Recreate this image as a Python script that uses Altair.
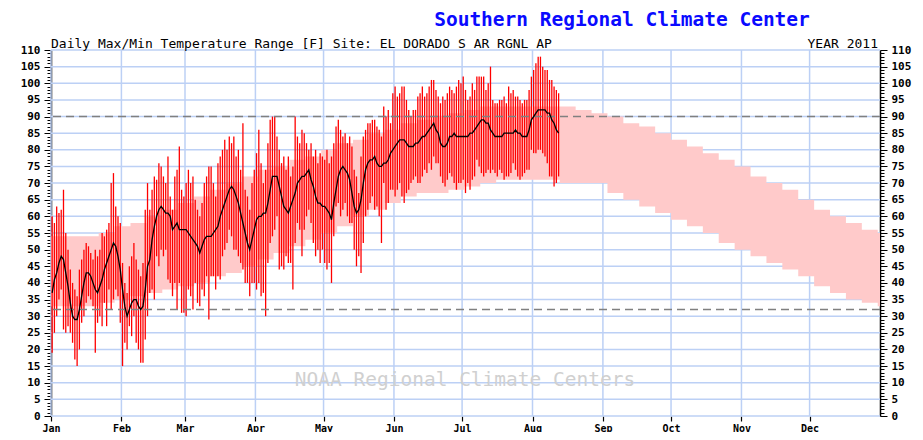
import json
import altair as alt
import pandas as pd

# ---------------- data ----------------
daily_max = [
    60, 58, 63, 61, 62, 68, 55, 50, 44, 40,
    38, 36, 44, 47, 50, 52, 51, 49, 47, 50,
    48, 50, 55, 54, 56, 58, 70, 73, 63, 60,
    58, 46, 40, 37, 45, 48, 52, 47, 44, 42,
    46, 62, 70, 62, 68, 72, 71, 76, 75, 72,
    70, 78, 66, 62, 72, 74, 81, 68, 66, 70,
    74, 70, 72, 65, 62, 60, 64, 70, 72, 75,
    75, 70, 66, 76, 78, 80, 83, 80, 84, 82,
    84, 78, 80, 74, 88, 68, 66, 62, 70, 74,
    79, 86, 76, 70, 74, 82, 89, 90, 90, 84,
    80, 76, 78, 74, 78, 72, 75, 90, 84, 82,
    86, 85, 82, 80, 82, 78, 80, 76, 79, 78,
    77, 80, 76, 78, 82, 87, 89, 86, 84, 85,
    82, 84, 81, 74, 72, 67, 78, 84, 86, 88,
    88, 89, 89, 87, 86, 84, 93, 90, 92, 88,
    97, 99, 96, 97, 99, 99, 95, 92, 90, 92,
    92, 96, 97, 99, 96, 97, 99, 101, 101, 98,
    96, 94, 96, 95, 97, 99, 98, 97, 99, 101,
    100, 102, 98, 95, 96, 100, 98, 102, 102, 102,
    102, 98, 100, 105, 95, 94, 94, 95, 95, 96,
    94, 99, 97, 98, 96, 96, 95, 94, 95, 95,
    98, 102, 104, 106, 108, 108, 105, 104, 104, 101,
    101, 99, 98, 97,
]
daily_min = [
    19, 25, 30, 35, 38, 26, 25, 27, 25, 22,
    17, 15, 20, 28, 30, 34, 36, 35, 33, 19,
    28, 30, 27, 34, 27, 38, 32, 35, 38, 36,
    28, 15, 22, 20, 27, 24, 30, 22, 20, 16,
    16, 23, 30, 37, 38, 35, 48, 45, 50, 48,
    50, 41, 40, 36, 40, 32, 40, 31, 31, 30,
    38, 36, 32, 40, 34, 33, 38, 36, 42, 29,
    42, 42, 38, 42, 41, 48, 50, 52, 56, 54,
    50, 50, 48, 46, 44, 40, 40, 36, 40, 40,
    38, 40, 36, 37, 30, 46, 52, 54, 56, 60,
    44, 45, 44, 48, 46, 46, 38, 52, 58, 56,
    48, 56, 60, 62, 58, 52, 48, 50, 46, 50,
    46, 44, 46, 40, 54, 63, 64, 60, 62, 64,
    60, 58, 58, 50, 45, 48, 43, 52, 60, 62,
    64, 66, 62, 63, 60, 52, 70, 62, 64, 68,
    68, 66, 68, 70, 66, 64, 67, 68, 70, 71,
    72, 70, 70, 72, 74, 73, 76, 74, 78, 76,
    76, 72, 70, 69, 71, 73, 72, 70, 68, 70,
    70, 71, 67, 70, 68, 71, 72, 77, 75, 73,
    72, 73, 74, 73, 74, 73, 72, 74, 73, 71,
    72, 72, 73, 76, 74, 72, 71, 72, 73, 74,
    74, 80, 79, 79, 80, 80, 79, 78, 76, 72,
    72, 69, 70, 72,
]
smoothed = [
    37, 41, 43, 46, 48, 47, 43, 39, 34, 30,
    29, 29, 32, 36, 40, 43, 43, 42, 40, 38,
    37, 39, 41, 44, 46, 48, 50, 52, 51, 48,
    44, 38, 33, 30, 32, 34, 35, 35, 33, 32,
    33, 38, 45, 47, 53, 57, 60, 62, 63, 62,
    61, 61, 60, 56, 57, 58, 56, 56, 56, 56,
    55, 54, 53, 52, 51, 49, 51, 53, 54, 54,
    54, 55, 56, 57, 60, 62, 64, 66, 68, 69,
    68, 66, 64, 61, 58, 55, 52, 50, 53, 56,
    59, 60, 60, 61, 61, 64, 68, 72, 72, 72,
    69, 66, 63, 62, 61, 63, 65, 67, 70, 71,
    72, 72, 73, 74, 71, 69, 66, 64, 64, 63,
    63, 62, 61, 59, 64, 68, 72, 74, 75, 74,
    73, 71, 67, 63, 61, 62, 65, 70, 74, 76,
    77, 77, 78, 76, 75, 75, 76, 76, 77, 79,
    80, 81, 82, 83, 83, 83, 82, 81, 81, 81,
    82, 82, 83, 84, 84, 85, 86, 87, 88, 86,
    85, 82, 81, 81, 82, 84, 84, 85, 84, 84,
    84, 84, 84, 84, 85, 85, 86, 87, 88, 89,
    89, 88, 88, 86, 85, 84, 84, 84, 84, 85,
    85, 85, 85, 85, 86, 85, 85, 84, 84, 84,
    86, 89, 90, 91, 92, 92, 92, 92, 91, 91,
    89, 88, 86, 85,
]
# normals, one value per week (day of year 0, 7, 14, ... 364, then 365)
normal_max = [
    54, 54, 54, 55, 57, 58, 60, 62, 64, 66, 68, 70, 72, 74, 75, 77, 78, 80,
    82, 83, 85, 86, 88, 89, 90, 91, 92, 93, 93, 93, 93, 93, 93, 92, 91, 90,
    88, 87, 85, 83, 81, 79, 77, 75, 72, 70, 68, 65, 62, 60, 58, 56, 55, 55,
]
normal_min = [
    33, 33, 33, 34, 35, 36, 37, 38, 39, 40, 42, 43, 45, 47, 49, 51, 53, 55,
    57, 60, 62, 64, 66, 67, 67, 68, 69, 70, 71, 71, 71, 71, 70, 70, 70, 67,
    65, 63, 61, 59, 57, 55, 52, 50, 48, 46, 44, 42, 39, 37, 35, 34, 33, 33,
]
reference_lines = [90, 32]
months = ["Jan", "Feb", "Mar", "Apr", "May", "Jun",
          "Jul", "Aug", "Sep", "Oct", "Nov", "Dec"]
month_start = [0, 31, 59, 90, 120, 151, 181, 212, 243, 273, 304, 334]
y_ticks = list(range(0, 111))
y_major = list(range(0, 111, 5))

title_text = "Southern Regional Climate Center"
subtitle_text = "Daily Max/Min Temperature Range [F] Site: EL DORADO S AR RGNL AP"
year_text = "YEAR 2011"
watermark_text = "NOAA Regional Climate Centers"

# ---------------- frames ----------------
n = len(daily_max)
daily = pd.DataFrame({
    "day": [i + 0.5 for i in range(n)],
    "hi": daily_max,
    "lo": daily_min,
    "avg": smoothed,
})
norm_days = list(range(0, 365, 7)) + [365]
normals = pd.DataFrame({"day": norm_days, "nmax": normal_max, "nmin": normal_min})
refs = pd.DataFrame({"v": reference_lines})

W, H = 829, 366
GRID = "#bcd0f5"
MONO = "DejaVu Sans Mono"

xscale = alt.Scale(domain=[0, 365], nice=False, zero=False)
yscale = alt.Scale(domain=[0, 110], nice=False, zero=False)

label_expr_x = f"{json.dumps(months)}[indexof({json.dumps(month_start)}, datum.value)]"

xaxis = alt.Axis(
    orient="bottom", values=month_start, labelExpr=label_expr_x, title=None,
    grid=False, domain=False, ticks=True, tickColor="black", tickSize=5, tickWidth=1.2,
    labelFont=MONO, labelFontWeight="bold", labelFontSize=10, labelColor="black",
    labelPadding=2, labelAlign="center", labelBaseline="top", labelOverlap=False,
)


def yaxis(orient):
    return alt.Axis(
        orient=orient, values=y_ticks, title=None,
        labelExpr="datum.value % 5 === 0 ? datum.value : ''",
        tickSize={"condition": {"test": "datum.value % 5 === 0", "value": 7}, "value": 4},
        tickColor="black", tickWidth=1, grid=False,
        domainColor="black", domainWidth=1.5,
        labelFont=MONO, labelFontWeight="bold", labelFontSize=11, labelColor="black",
        labelPadding=4, labelOverlap=False, labelBound=False,
    )


# ---- invisible layers that only carry the axes ----
axis_frame = pd.DataFrame({"d": [0], "v": [0]})
left_axes = alt.Chart(axis_frame).mark_point(opacity=0).encode(
    x=alt.X("d:Q", scale=xscale, axis=xaxis),
    y=alt.Y("v:Q", scale=yscale, axis=yaxis("left")),
)
right_axis = alt.Chart(axis_frame).mark_point(opacity=0).encode(
    y=alt.Y("v:Q", scale=yscale, axis=yaxis("right")),
)

# ---- grid, drawn under everything ----
grid_h = alt.Chart(pd.DataFrame({"v": y_major})).mark_rule(color=GRID, strokeWidth=1.5).encode(
    y=alt.Y("v:Q", scale=yscale, axis=None),
)
grid_v = alt.Chart(pd.DataFrame({"d": month_start})).mark_rule(color=GRID, strokeWidth=1.5).encode(
    x=alt.X("d:Q", scale=xscale, axis=None),
)

# ---- data layers (no axes of their own) ----
band = alt.Chart(normals).mark_area(
    color="#ffcaca", opacity=1, fillOpacity=1, interpolate="step-after"
).encode(
    x=alt.X("day:Q", scale=xscale, axis=None),
    y=alt.Y("nmin:Q", scale=yscale, axis=None),
    y2="nmax:Q",
)

bars = alt.Chart(daily).mark_rule(color="#ff0000", strokeWidth=1.3, opacity=1).encode(
    x=alt.X("day:Q", scale=xscale, axis=None),
    y=alt.Y("lo:Q", scale=yscale, axis=None),
    y2="hi:Q",
)

dashes = alt.Chart(refs).mark_rule(color="#808080", strokeWidth=1.5, strokeDash=[8, 5]).encode(
    y=alt.Y("v:Q", scale=yscale, axis=None),
)

line = alt.Chart(daily).mark_line(color="black", strokeWidth=1.3).encode(
    x=alt.X("day:Q", scale=xscale, axis=None),
    y=alt.Y("avg:Q", scale=yscale, axis=None),
)


def label(text, x, y, **kw):
    return alt.Chart(pd.DataFrame({"t": [text]})).mark_text(**kw).encode(
        x=alt.value(x), y=alt.value(y), text="t:N"
    )


title = label(title_text, 571, -30, font=MONO, fontSize=19.5, fontWeight="bold",
              color="#0a0aff", align="center", baseline="middle")
subtitle = label(subtitle_text, 0, -2, font=MONO, fontSize=13, color="black",
                 align="left", baseline="alphabetic")
year = label(year_text, 827, -2, font=MONO, fontSize=13, color="black",
             align="right", baseline="alphabetic")
watermark = label(watermark_text, 414, 330, font=MONO, fontSize=19.5, color="#d0d0d0",
                  align="center", baseline="middle")

main = alt.layer(grid_h, grid_v, band, watermark, bars, dashes, line, title, subtitle, year)

chart = alt.layer(left_axes, main, right_axis).resolve_scale(
    x="independent", y="independent"
).properties(
    width=W, height=H,
    padding={"left": 43, "top": 42, "right": 34, "bottom": 16},
    autosize=alt.AutoSizeParams(type="none"),
).configure_view(stroke=None)

chart.save("out.html", embed_options={"renderer": "svg", "actions": False})
